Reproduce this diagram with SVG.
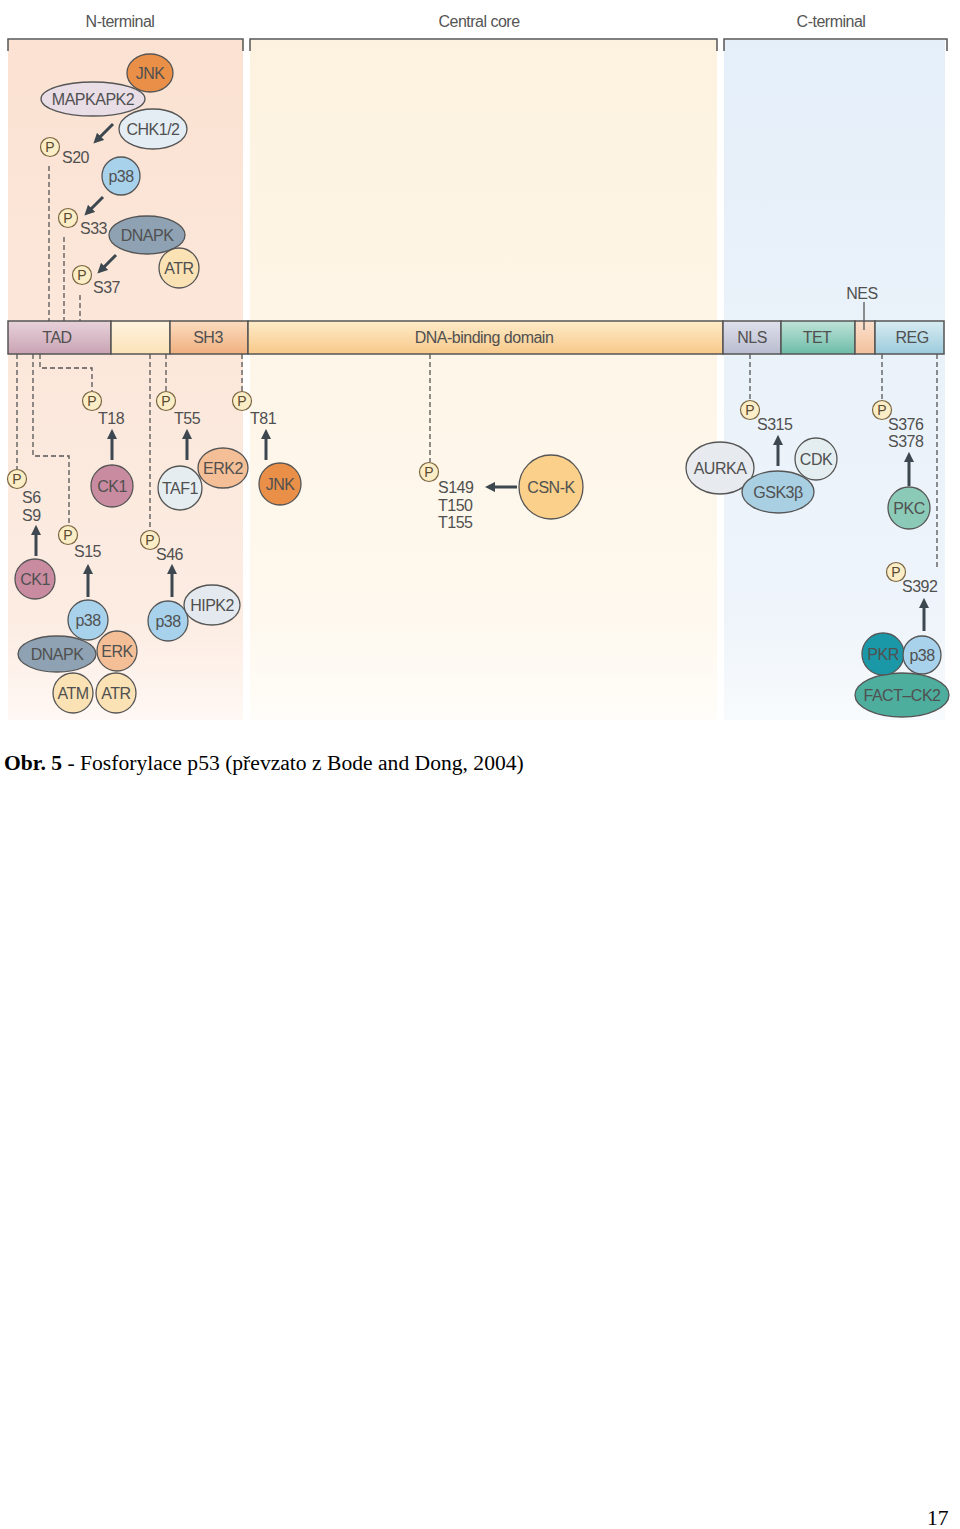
<svg xmlns="http://www.w3.org/2000/svg" width="960" height="1529" viewBox="0 0 960 1529">
<defs>
<style>
.lbl{font-family:"Liberation Sans",Arial,sans-serif;font-size:16px;fill:#505050;letter-spacing:-0.5px}
.hdr{font-family:"Liberation Sans",Arial,sans-serif;font-size:16px;fill:#555;letter-spacing:-0.5px}
.site{font-family:"Liberation Sans",Arial,sans-serif;font-size:16px;fill:#505050;letter-spacing:-0.5px}
.ptxt{font-family:"Liberation Sans",Arial,sans-serif;font-size:14px;fill:#5a4a30;text-anchor:middle}
.pc{fill:#fbedc6;stroke:#7a6540;stroke-width:1.2}
.n{stroke:#555;stroke-width:1.3}
.dash{fill:none;stroke:#555;stroke-width:1.3;stroke-dasharray:5,3}
.arr{fill:none;stroke:#3c4750;stroke-width:3;marker-end:url(#ah)}
.brk{fill:none;stroke:#555;stroke-width:1.5}
.dom{stroke:#555;stroke-width:1.5}
.c{text-anchor:middle}
.cap{font-family:"Liberation Serif","Times New Roman",serif;font-size:21.6px;fill:#000}
</style>
<marker id="ah" viewBox="0 0 10 10" refX="5" refY="5" markerWidth="3.4" markerHeight="3.4" orient="auto">
<path d="M0,0 L10,5 L0,10 z" fill="#3c4750"/>
</marker>
<linearGradient id="gN" x1="0" y1="0" x2="0" y2="1">
<stop offset="0" stop-color="#fbe2d2"/><stop offset="0.85" stop-color="#fcece2"/><stop offset="1" stop-color="#fff8f4"/>
</linearGradient>
<linearGradient id="gC" x1="0" y1="0" x2="0" y2="1">
<stop offset="0" stop-color="#fdf2df"/><stop offset="0.85" stop-color="#fef8ee"/><stop offset="1" stop-color="#fffdf9"/>
</linearGradient>
<linearGradient id="gT" x1="0" y1="0" x2="0" y2="1">
<stop offset="0" stop-color="#e5eff9"/><stop offset="0.85" stop-color="#eef4fa"/><stop offset="1" stop-color="#f8fbfd"/>
</linearGradient>
<linearGradient id="dTAD" x1="0" y1="0" x2="0" y2="1"><stop offset="0" stop-color="#e8d2da"/><stop offset="1" stop-color="#c9a3b3"/></linearGradient>
<linearGradient id="dGap" x1="0" y1="0" x2="0" y2="1"><stop offset="0" stop-color="#fff3de"/><stop offset="1" stop-color="#fbe2b8"/></linearGradient>
<linearGradient id="dSH3" x1="0" y1="0" x2="0" y2="1"><stop offset="0" stop-color="#fbdcc0"/><stop offset="1" stop-color="#f0b07f"/></linearGradient>
<linearGradient id="dDBD" x1="0" y1="0" x2="0" y2="1"><stop offset="0" stop-color="#fdebc8"/><stop offset="1" stop-color="#f8c98a"/></linearGradient>
<linearGradient id="dNLS" x1="0" y1="0" x2="0" y2="1"><stop offset="0" stop-color="#dfe0ec"/><stop offset="1" stop-color="#b9bccf"/></linearGradient>
<linearGradient id="dTET" x1="0" y1="0" x2="0" y2="1"><stop offset="0" stop-color="#bfe3d8"/><stop offset="1" stop-color="#6dbca8"/></linearGradient>
<linearGradient id="dNES" x1="0" y1="0" x2="0" y2="1"><stop offset="0" stop-color="#fbe0cc"/><stop offset="1" stop-color="#f2c09c"/></linearGradient>
<linearGradient id="dREG" x1="0" y1="0" x2="0" y2="1"><stop offset="0" stop-color="#d8ecf2"/><stop offset="1" stop-color="#9ccbdc"/></linearGradient>
</defs>
<rect width="960" height="1529" fill="#fff"/>

<g id="panels">
<rect x="8" y="40" width="235" height="680" fill="url(#gN)"/>
<rect x="250" y="40" width="467" height="680" fill="url(#gC)"/>
<rect x="724" y="40" width="221" height="680" fill="url(#gT)"/>
<path class="brk" d="M8,51 V39 H243 V51"/>
<path class="brk" d="M250,51 V39 H717 V51"/>
<path class="brk" d="M724,51 V39 H947 V51"/>
<text class="hdr c" x="120" y="27">N-terminal</text>
<text class="hdr c" x="479" y="27">Central core</text>
<text class="hdr c" x="831" y="27">C-terminal</text>
</g>

<g id="domains">
<rect class="dom" x="8" y="321" width="103" height="33" fill="url(#dTAD)"/>
<rect class="dom" x="111" y="321" width="59" height="33" fill="url(#dGap)"/>
<rect class="dom" x="170" y="321" width="78" height="33" fill="url(#dSH3)"/>
<rect class="dom" x="248" y="321" width="475" height="33" fill="url(#dDBD)"/>
<rect class="dom" x="723" y="321" width="58" height="33" fill="url(#dNLS)"/>
<rect class="dom" x="781" y="321" width="74" height="33" fill="url(#dTET)"/>
<rect class="dom" x="855" y="321" width="20" height="33" fill="url(#dNES)"/>
<rect class="dom" x="875" y="321" width="69" height="33" fill="url(#dREG)"/>
<text class="lbl c" x="57" y="343">TAD</text>
<text class="lbl c" x="208" y="343">SH3</text>
<text class="lbl c" x="484" y="343">DNA-binding domain</text>
<text class="lbl c" x="752" y="343">NLS</text>
<text class="lbl c" x="817" y="343">TET</text>
<text class="lbl c" x="912" y="343">REG</text>
<line x1="864" y1="302" x2="864" y2="330" stroke="#555" stroke-width="1.3"/>
<text class="lbl c" x="862" y="299">NES</text>
</g>

<g id="connectors">
<path class="dash" d="M49,166 V321"/>
<path class="dash" d="M64,237 V321"/>
<path class="dash" d="M80,295 V321"/>
<path class="dash" d="M17,354 V469"/>
<path class="dash" d="M33,354 V456 H69 V525"/>
<path class="dash" d="M40,354 V368 H92 V391"/>
<path class="dash" d="M150,354 V530"/>
<path class="dash" d="M166,354 V391"/>
<path class="dash" d="M242,354 V391"/>
<path class="dash" d="M430,354 V462"/>
<path class="dash" d="M750,354 V400"/>
<path class="dash" d="M882,354 V400"/>
<path class="dash" d="M937,354 V568"/>
<path class="arr" d="M113,124 L97,140"/>
<path class="arr" d="M103,197 L88,212"/>
<path class="arr" d="M116,255 L101,270"/>
<path class="arr" d="M36,556 V530"/>
<path class="arr" d="M88,597 V569"/>
<path class="arr" d="M112,460 V434"/>
<path class="arr" d="M172,597 V569"/>
<path class="arr" d="M187,460 V434"/>
<path class="arr" d="M266,460 V434"/>
<path class="arr" d="M517,487 H490"/>
<path class="arr" d="M778,466 V440"/>
<path class="arr" d="M909,486 V457"/>
<path class="arr" d="M924,631 V603"/>
</g>

<g id="psites">
<circle class="pc" cx="50" cy="147" r="9.5"/><text class="ptxt" x="50" y="152">P</text><text class="site" x="62" y="163">S20</text>
<circle class="pc" cx="68" cy="218" r="9.5"/><text class="ptxt" x="68" y="223">P</text><text class="site" x="80" y="234">S33</text>
<circle class="pc" cx="82" cy="275" r="9.5"/><text class="ptxt" x="82" y="280">P</text><text class="site" x="93" y="293">S37</text>
<circle class="pc" cx="17" cy="479" r="9.5"/><text class="ptxt" x="17" y="484">P</text><text class="site" x="22" y="503">S6</text><text class="site" x="22" y="521">S9</text>
<circle class="pc" cx="68" cy="535" r="9.5"/><text class="ptxt" x="68" y="540">P</text><text class="site" x="74" y="557">S15</text>
<circle class="pc" cx="92" cy="401" r="9.5"/><text class="ptxt" x="92" y="406">P</text><text class="site" x="98" y="424">T18</text>
<circle class="pc" cx="150" cy="540" r="9.5"/><text class="ptxt" x="150" y="545">P</text><text class="site" x="156" y="560">S46</text>
<circle class="pc" cx="166" cy="401" r="9.5"/><text class="ptxt" x="166" y="406">P</text><text class="site" x="174" y="424">T55</text>
<circle class="pc" cx="242" cy="401" r="9.5"/><text class="ptxt" x="242" y="406">P</text><text class="site" x="250" y="424">T81</text>
<circle class="pc" cx="429" cy="472" r="9.5"/><text class="ptxt" x="429" y="477">P</text><text class="site" x="438" y="493">S149</text><text class="site" x="438" y="511">T150</text><text class="site" x="438" y="528">T155</text>
<circle class="pc" cx="750" cy="410" r="9.5"/><text class="ptxt" x="750" y="415">P</text><text class="site" x="757" y="430">S315</text>
<circle class="pc" cx="882" cy="410" r="9.5"/><text class="ptxt" x="882" y="415">P</text><text class="site" x="888" y="430">S376</text><text class="site" x="888" y="447">S378</text>
<circle class="pc" cx="896" cy="572" r="9.5"/><text class="ptxt" x="896" y="577">P</text><text class="site" x="902" y="592">S392</text>
</g>

<g id="n-jnk1"><ellipse class="n" cx="150" cy="73" rx="23" ry="19" fill="#e98f48"/><text class="lbl c" x="150" y="79">JNK</text></g>
<g id="n-mapkapk2"><ellipse class="n" cx="93" cy="99" rx="52" ry="17" fill="#e9dde6"/><text class="lbl c" x="93" y="105">MAPKAPK2</text></g>
<g id="n-chk12"><ellipse class="n" cx="153" cy="129" rx="34" ry="20" fill="#e4edf3"/><text class="lbl c" x="153" y="135">CHK1/2</text></g>
<g id="n-p38a"><circle class="n" cx="121" cy="176" r="19" fill="#a8d2ec"/><text class="lbl c" x="121" y="182">p38</text></g>
<g id="n-dnapk1"><ellipse class="n" cx="147" cy="235" rx="38" ry="19" fill="#8ea2b3"/><text class="lbl c" x="147" y="241">DNAPK</text></g>
<g id="n-atr1"><circle class="n" cx="179" cy="268" r="20" fill="#fae2b4"/><text class="lbl c" x="179" y="274">ATR</text></g>

<g id="n-ck1a"><circle class="n" cx="35" cy="579" r="20" fill="#c98ba0"/><text class="lbl c" x="35" y="585">CK1</text></g>
<g id="n-p38b"><circle class="n" cx="88" cy="620" r="20" fill="#a8d2ec"/><text class="lbl c" x="88" y="626">p38</text></g>
<g id="n-dnapk2"><ellipse class="n" cx="57" cy="654" rx="39" ry="18" fill="#8ea2b3"/><text class="lbl c" x="57" y="660">DNAPK</text></g>
<g id="n-erk"><circle class="n" cx="117" cy="651" r="20" fill="#f4bf96"/><text class="lbl c" x="117" y="657">ERK</text></g>
<g id="n-atm"><circle class="n" cx="73" cy="693" r="20" fill="#fae2b4"/><text class="lbl c" x="73" y="699">ATM</text></g>
<g id="n-atr2"><circle class="n" cx="116" cy="693" r="20" fill="#fae2b4"/><text class="lbl c" x="116" y="699">ATR</text></g>
<g id="n-ck1b"><circle class="n" cx="112" cy="486" r="21" fill="#c98ba0"/><text class="lbl c" x="112" y="492">CK1</text></g>
<g id="n-p38c"><circle class="n" cx="168" cy="621" r="20" fill="#a8d2ec"/><text class="lbl c" x="168" y="627">p38</text></g>
<g id="n-hipk2"><ellipse class="n" cx="212" cy="605" rx="28" ry="20" fill="#e4e9ef"/><text class="lbl c" x="212" y="611">HIPK2</text></g>
<g id="n-erk2"><ellipse class="n" cx="223" cy="468" rx="25" ry="20" fill="#f4bf96"/><text class="lbl c" x="223" y="474">ERK2</text></g>
<g id="n-taf1"><circle class="n" cx="180" cy="488" r="22" fill="#e5edf1"/><text class="lbl c" x="180" y="494">TAF1</text></g>
<g id="n-jnk2"><circle class="n" cx="280" cy="484" r="21" fill="#e98f48"/><text class="lbl c" x="280" y="490">JNK</text></g>

<g id="n-csnk"><circle class="n" cx="551" cy="487" r="32" fill="#fad08a"/><text class="lbl c" x="551" y="493">CSN-K</text></g>

<g id="n-aurka"><ellipse class="n" cx="720" cy="468" rx="34" ry="26" fill="#e7eaef"/><text class="lbl c" x="720" y="474">AURKA</text></g>
<g id="n-cdk"><circle class="n" cx="816" cy="459" r="21" fill="#e4eef1"/><text class="lbl c" x="816" y="465">CDK</text></g>
<g id="n-gsk3b"><ellipse class="n" cx="778" cy="492" rx="36" ry="21" fill="#a9cfe3"/><text class="lbl c" x="778" y="498">GSK3β</text></g>
<g id="n-pkc"><circle class="n" cx="909" cy="508" r="21" fill="#8ccab8"/><text class="lbl c" x="909" y="514">PKC</text></g>
<g id="n-fackck2"><ellipse class="n" cx="902" cy="695" rx="47" ry="22" fill="#4eae9e"/><text class="lbl c" x="902" y="701">FACT–CK2</text></g>
<g id="n-pkr"><circle class="n" cx="883" cy="654" r="21" fill="#1b98a8"/><text class="lbl c" x="883" y="660">PKR</text></g>
<g id="n-p38d"><circle class="n" cx="922" cy="655" r="19" fill="#a8d2ec"/><text class="lbl c" x="922" y="661">p38</text></g>

<g id="caption">
<text class="cap" x="4" y="770"><tspan font-weight="bold">Obr. 5</tspan> - Fosforylace p53 (převzato z Bode and Dong, 2004)</text>
<text class="cap" x="927" y="1525" font-size="24">17</text>
</g>
</svg>
